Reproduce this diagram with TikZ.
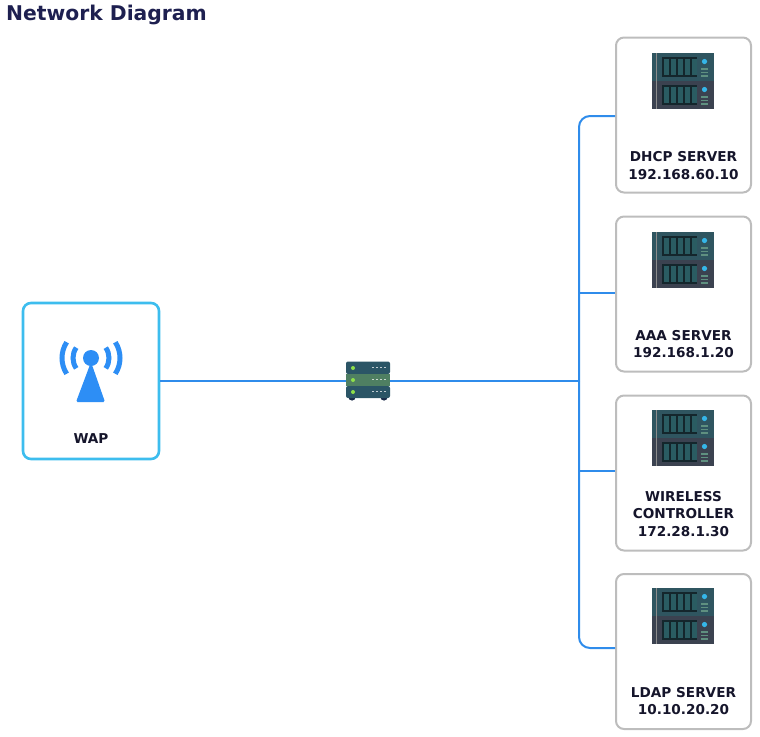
\documentclass[tikz,border=0pt]{standalone}
\usepackage{xcolor}
\usepackage{fontspec}
\setmainfont{DejaVu Sans}
\usetikzlibrary{positioning}

\definecolor{titleblue}{HTML}{1E2050}
\definecolor{linkblue}{HTML}{2F8CEB}
\definecolor{wapcyan}{HTML}{3DBDEE}
\definecolor{antennablue}{HTML}{2D8EF5}
\definecolor{cardgrey}{HTML}{BDBDBD}
\definecolor{labeldark}{HTML}{15152B}
\definecolor{rackteal}{HTML}{2F5560}
\definecolor{rackslate}{HTML}{3B4250}
\definecolor{bayblack}{HTML}{14262C}
\definecolor{baybar}{HTML}{2A5C62}
\definecolor{ledcyan}{HTML}{35B6E8}
\definecolor{ventgreen}{HTML}{5F9080}
\definecolor{switchteal}{HTML}{2B5566}
\definecolor{switchgreen}{HTML}{4F7F62}
\definecolor{switchfoot}{HTML}{1C2C4A}
\definecolor{ledgreen}{HTML}{8FE04A}

\tikzset{
    servercard/.style={draw=cardgrey, line width=2pt, fill=white, rounded corners=8pt,
        minimum width=135pt, minimum height=155pt, inner sep=0pt},
    wapcard/.style={draw=wapcyan, line width=2.6pt, fill=white, rounded corners=8pt,
        minimum width=136pt, minimum height=156pt, inner sep=0pt},
    cardlabel/.style={font=\fontsize{13.6}{17.6}\selectfont\bfseries, text=labeldark, align=center, inner sep=0pt},
    link/.style={draw=linkblue, line width=2.8pt},
    branch/.style={draw=linkblue, line width=2pt, rounded corners=11pt},
    wave/.style={draw=antennablue, line width=5pt},
    rackunit/.pic={
        \fill[#1] (-31,-14) rectangle (31,14);
        \fill[bayblack] (-21,-10) rectangle (14,10);
        \foreach \bayx in {-19,-12,-5,2,9} {
            \fill[baybar] (\bayx,-8) rectangle ++(5,16);
        }
        \fill[ledcyan] (21.5,-5.5) circle (2.6);
        \fill[ventgreen] (18,1) rectangle (25,2.5);
        \fill[ventgreen] (18,4.5) rectangle (25,6);
        \fill[ventgreen] (18,8) rectangle (25,9.5);
        \draw[black!45, line width=0.5pt] (-27,-14) -- (-27,14);
    },
    serverstack/.pic={
        \pic at (0,-14) {rackunit=rackteal};
        \pic at (0,14) {rackunit=rackslate};
    }
}

\begin{document}
\begin{tikzpicture}[x=1pt, y=-1pt]
    \useasboundingbox (0,0) rectangle (760,736);

    % Title
    \node[font=\fontsize{20.3}{24}\selectfont\bfseries, text=titleblue, anchor=west, inner sep=0pt] (title) at (6,15) {Network Diagram};

    % Cards
    \node[wapcard] (wap) at (91,381) {};
    \node[servercard] (dhcp) at (683.5,115) {};
    \node[servercard] (aaa) at (683.5,294) {};
    \node[servercard] (wlc) at (683.5,473) {};
    \node[servercard] (ldap) at (683.5,651.5) {};

    % Switch
    \node[minimum width=44pt, minimum height=38pt, inner sep=0pt] (switch) at (368,381) {};
    \coordinate (bus) at (579,381);

    % Links
    \draw[link] (wap.east) -- (switch.west);
    \draw[link] (switch.east) -- (bus);
    \draw[branch] (bus) |- ([yshift=-1pt]dhcp.west);
    \draw[branch] (bus) |- ([yshift=3.5pt]ldap.west);
    \draw[branch, rounded corners=0pt] (bus) |- ([yshift=1pt]aaa.west);
    \draw[branch, rounded corners=0pt] (bus) |- ([yshift=2pt]wlc.west);

    % Switch body
    \fill[switchfoot] (352,397) circle (3.6);
    \fill[switchfoot] (384,397) circle (3.6);
    \fill[switchteal, rounded corners=2pt] (346,361.5) rectangle (390,374);
    \fill[switchgreen] (346,374) rectangle (390,386);
    \fill[switchteal, rounded corners=2pt] (346,386) rectangle (390,398);
    \fill[ledgreen] (353,368) circle (2);
    \fill[ledgreen] (353,380) circle (2);
    \fill[ledgreen] (353,392) circle (2);
    \draw[white!70!switchteal, line width=1pt, dash pattern=on 2pt off 2pt] (372,367) -- (386,367);
    \draw[white!70!switchgreen, line width=1pt, dash pattern=on 2pt off 2pt] (372,379) -- (386,379);
    \draw[white!70!switchteal, line width=1pt, dash pattern=on 2pt off 2pt] (372,391) -- (386,391);

    % Antenna
    \fill[antennablue, rounded corners=1.5pt] (91,362) -- (105,402) -- (76,402) -- cycle;
    \fill[antennablue] (91,358) circle (8);
    \draw[wave] (91,358) ++(145:18) arc (145:215:18);
    \draw[wave] (91,358) ++(35:18) arc (35:-35:18);
    \draw[wave] (91,358) ++(147:29) arc (147:213:29);
    \draw[wave] (91,358) ++(33:29) arc (33:-33:29);

    % Racks
    \pic at (683,81) {serverstack};
    \pic at (683,260) {serverstack};
    \pic at (683,438) {serverstack};
    \pic at (683,616) {serverstack};

    % Labels
    \node[cardlabel] (waplabel) at (91,439) {WAP};
    \node[cardlabel] (dhcplabel) at (683.5,165.5) {DHCP SERVER\\192.168.60.10};
    \node[cardlabel] (aaalabel) at (683.5,344) {AAA SERVER\\192.168.1.20};
    \node[cardlabel] (wlclabel) at (683.5,514) {WIRELESS\\CONTROLLER\\172.28.1.30};
    \node[cardlabel] (ldaplabel) at (683.5,701) {LDAP SERVER\\10.10.20.20};
\end{tikzpicture}
\end{document}
